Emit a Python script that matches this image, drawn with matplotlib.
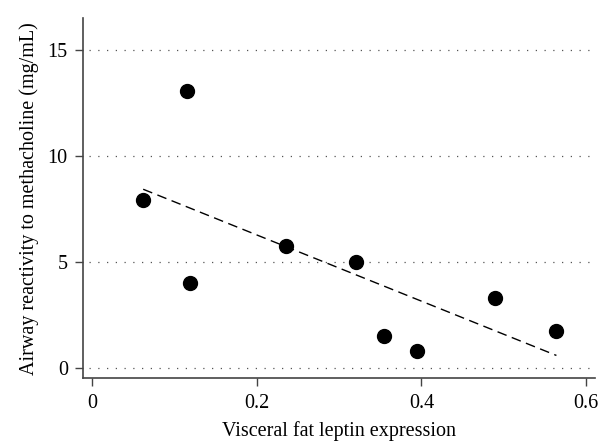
import numpy as np
import matplotlib.pyplot as plt

plt.rcParams['font.family'] = ['Liberation Serif', 'DejaVu Serif']

# leptin expression vs airway reactivity
leptin = [0.062, 0.115, 0.119, 0.235, 0.320, 0.354, 0.395, 0.489, 0.564]
reactivity = [7.94, 13.08, 4.01, 5.78, 5.00, 1.54, 0.82, 3.32, 1.78]

x_ticks = [0, 0.2, 0.4, 0.6]
x_tick_labels = ['0', '0.2', '0.4', '0.6']
y_ticks = [0, 5, 10, 15]

fig = plt.figure(figsize=(6.11, 4.42), dpi=100)
ax = fig.add_axes([0.136, 0.144, 0.838, 0.815])

for yv in y_ticks:
    ax.axhline(yv, xmin=0.012, color='#555555', lw=0.9, ls=(0, (1, 6)), zorder=0)

ax.scatter(leptin, reactivity, s=100, color='black', zorder=3)

# least squares fit line
k, b = np.polyfit(leptin, reactivity, 1)
xs = np.array([min(leptin), max(leptin)])
ax.plot(xs, k * xs + b, color='black', lw=1, ls=(0, (7, 4)), zorder=2)

ax.set_xlim(-0.011, 0.611)
ax.set_ylim(-0.47, 16.5)
ax.set_xticks(x_ticks)
ax.set_xticklabels(x_tick_labels)
ax.set_yticks(y_ticks)

for s in ['top', 'right']:
    ax.spines[s].set_visible(False)
for s in ['left', 'bottom']:
    ax.spines[s].set_color('#444444')
    ax.spines[s].set_linewidth(1.2)

ax.tick_params(direction='out', length=6, width=1, color='#444444',
               labelsize=14.5, pad=5)

ax.set_xlabel('Visceral fat leptin expression', fontsize=14.5, labelpad=6)
ax.set_ylabel('Airway reactivity to methacholine (mg/mL)', fontsize=14.5, labelpad=6)

fig.savefig('out.png', dpi=100)
